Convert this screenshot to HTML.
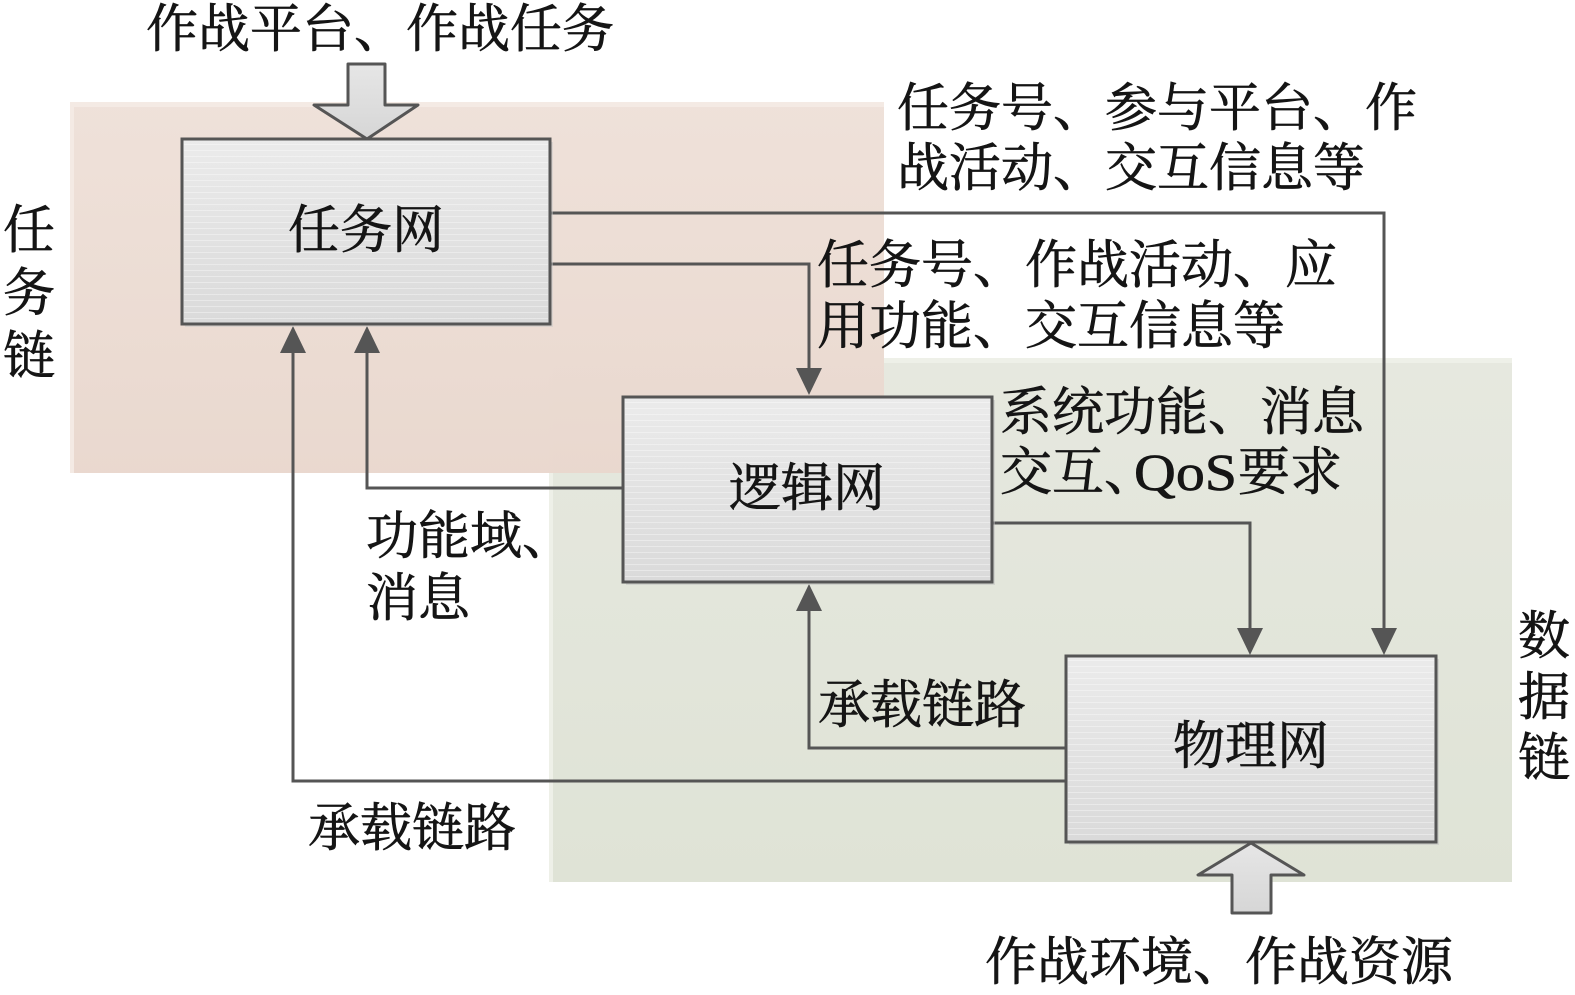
<!DOCTYPE html>
<html><head><meta charset="utf-8"><style>
html,body{margin:0;padding:0;background:#fff;}
svg{display:block;}
text{font-family:"Liberation Serif","Noto Serif CJK SC","Noto Sans CJK SC",serif;font-size:52px;fill:#151515;stroke:#151515;stroke-width:0.7px;}
</style></head><body>
<svg width="1575" height="995" viewBox="0 0 1575 995" xmlns="http://www.w3.org/2000/svg">
<defs>
<linearGradient id="pk" x1="0" y1="0" x2="0" y2="1">
<stop offset="0" stop-color="#eee0d8"/><stop offset="1" stop-color="#e8d6cc"/>
</linearGradient>
<linearGradient id="gr" x1="0" y1="0" x2="0" y2="1">
<stop offset="0" stop-color="#e6e8df"/><stop offset="1" stop-color="#dfe3d6"/>
</linearGradient>
<linearGradient id="bx" x1="0" y1="0" x2="0" y2="1">
<stop offset="0" stop-color="#ebebeb"/><stop offset="1" stop-color="#dadada"/>
</linearGradient>
<linearGradient id="ha" x1="0" y1="0" x2="0" y2="1">
<stop offset="0" stop-color="#e6e6e6"/><stop offset="1" stop-color="#d6d6d6"/>
</linearGradient>
<pattern id="st" width="8" height="6" patternUnits="userSpaceOnUse">
<rect width="8" height="1" fill="#ffffff" opacity="0.35"/>
</pattern>
</defs>
<rect width="1575" height="995" fill="#fff"/>
<!-- regions -->
<rect x="549" y="358" width="963" height="524" fill="#eef0e8"/>
<rect x="553" y="363" width="959" height="519" fill="url(#gr)"/>
<rect x="70" y="102" width="814" height="371" fill="#f3e8e1" opacity="0.9"/>
<rect x="74" y="107" width="810" height="366" fill="url(#pk)" opacity="0.88"/>

<!-- connectors -->
<g fill="none" stroke="#555" stroke-width="3">
<polyline points="550,213 1384,213 1384,630"/>
<polyline points="550,264 809,264 809,370"/>
<polyline points="623,488 367,488 367,352"/>
<polyline points="992,523 1250,523 1250,630"/>
<polyline points="1066,748 809,748 809,610"/>
<polyline points="1066,781 293,781 293,352"/>
</g>
<g fill="#555">
<polygon points="1371,628 1397,628 1384,655"/>
<polygon points="796,368 822,368 809,395"/>
<polygon points="354,353 380,353 367,326"/>
<polygon points="1237,628 1263,628 1250,655"/>
<polygon points="796,611 822,611 809,584"/>
<polygon points="280,353 306,353 293,326"/>
</g>

<!-- boxes -->
<g>
<rect x="185" y="142" width="368" height="185" fill="#c8c8c8" opacity="0.5"/>
<rect x="182" y="139" width="368" height="185" fill="url(#bx)" stroke="#555" stroke-width="3"/>
<rect x="184" y="141" width="364" height="181" fill="url(#st)"/>
<rect x="626" y="400" width="369" height="185" fill="#c0c0c0" opacity="0.5"/>
<rect x="623" y="397" width="369" height="185" fill="url(#bx)" stroke="#555" stroke-width="3"/>
<rect x="625" y="399" width="365" height="181" fill="url(#st)"/>
<rect x="1069" y="659" width="370" height="186" fill="#c0c0c0" opacity="0.5"/>
<rect x="1066" y="656" width="370" height="186" fill="url(#bx)" stroke="#555" stroke-width="3"/>
<rect x="1068" y="658" width="366" height="182" fill="url(#st)"/>
</g>

<!-- hollow arrows -->
<polygon points="348,64 385,64 385,105 418,105 367,139 314,105 348,105" fill="url(#ha)" stroke="#555" stroke-width="3" stroke-linejoin="round"/>
<polygon points="1232,913 1271,913 1271,875 1304,875 1251,843 1198,875 1232,875" fill="url(#ha)" stroke="#555" stroke-width="3" stroke-linejoin="round"/>

<!-- labels -->
<text x="146" y="47">作战平台、作战任务</text>
<text x="897" y="126">任务号、参与平台、作</text>
<text x="897" y="186">战活动、交互信息等</text>
<text x="817" y="283">任务号、作战活动、应</text>
<text x="817" y="344">用功能、交互信息等</text>
<text x="1000" y="430">系统功能、消息</text>
<text x="1000" y="490">交互、</text>
<text x="1134" y="490" textLength="103" lengthAdjust="spacingAndGlyphs">QoS</text>
<text x="1238" y="490">要求</text>
<text x="366" y="554">功能域、</text>
<text x="366" y="616">消息</text>
<text x="818" y="723">承载链路</text>
<text x="308" y="846">承载链路</text>
<text x="1518" y="654">数</text>
<text x="1518" y="715">据</text>
<text x="1518" y="776">链</text>
<text x="3" y="248">任</text>
<text x="3" y="311">务</text>
<text x="3" y="374">链</text>
<text x="985" y="980">作战环境、作战资源</text>
<text x="366" y="248" text-anchor="middle">任务网</text>
<text x="807" y="506" text-anchor="middle">逻辑网</text>
<text x="1251" y="764" text-anchor="middle">物理网</text>
</svg>
</body></html>
